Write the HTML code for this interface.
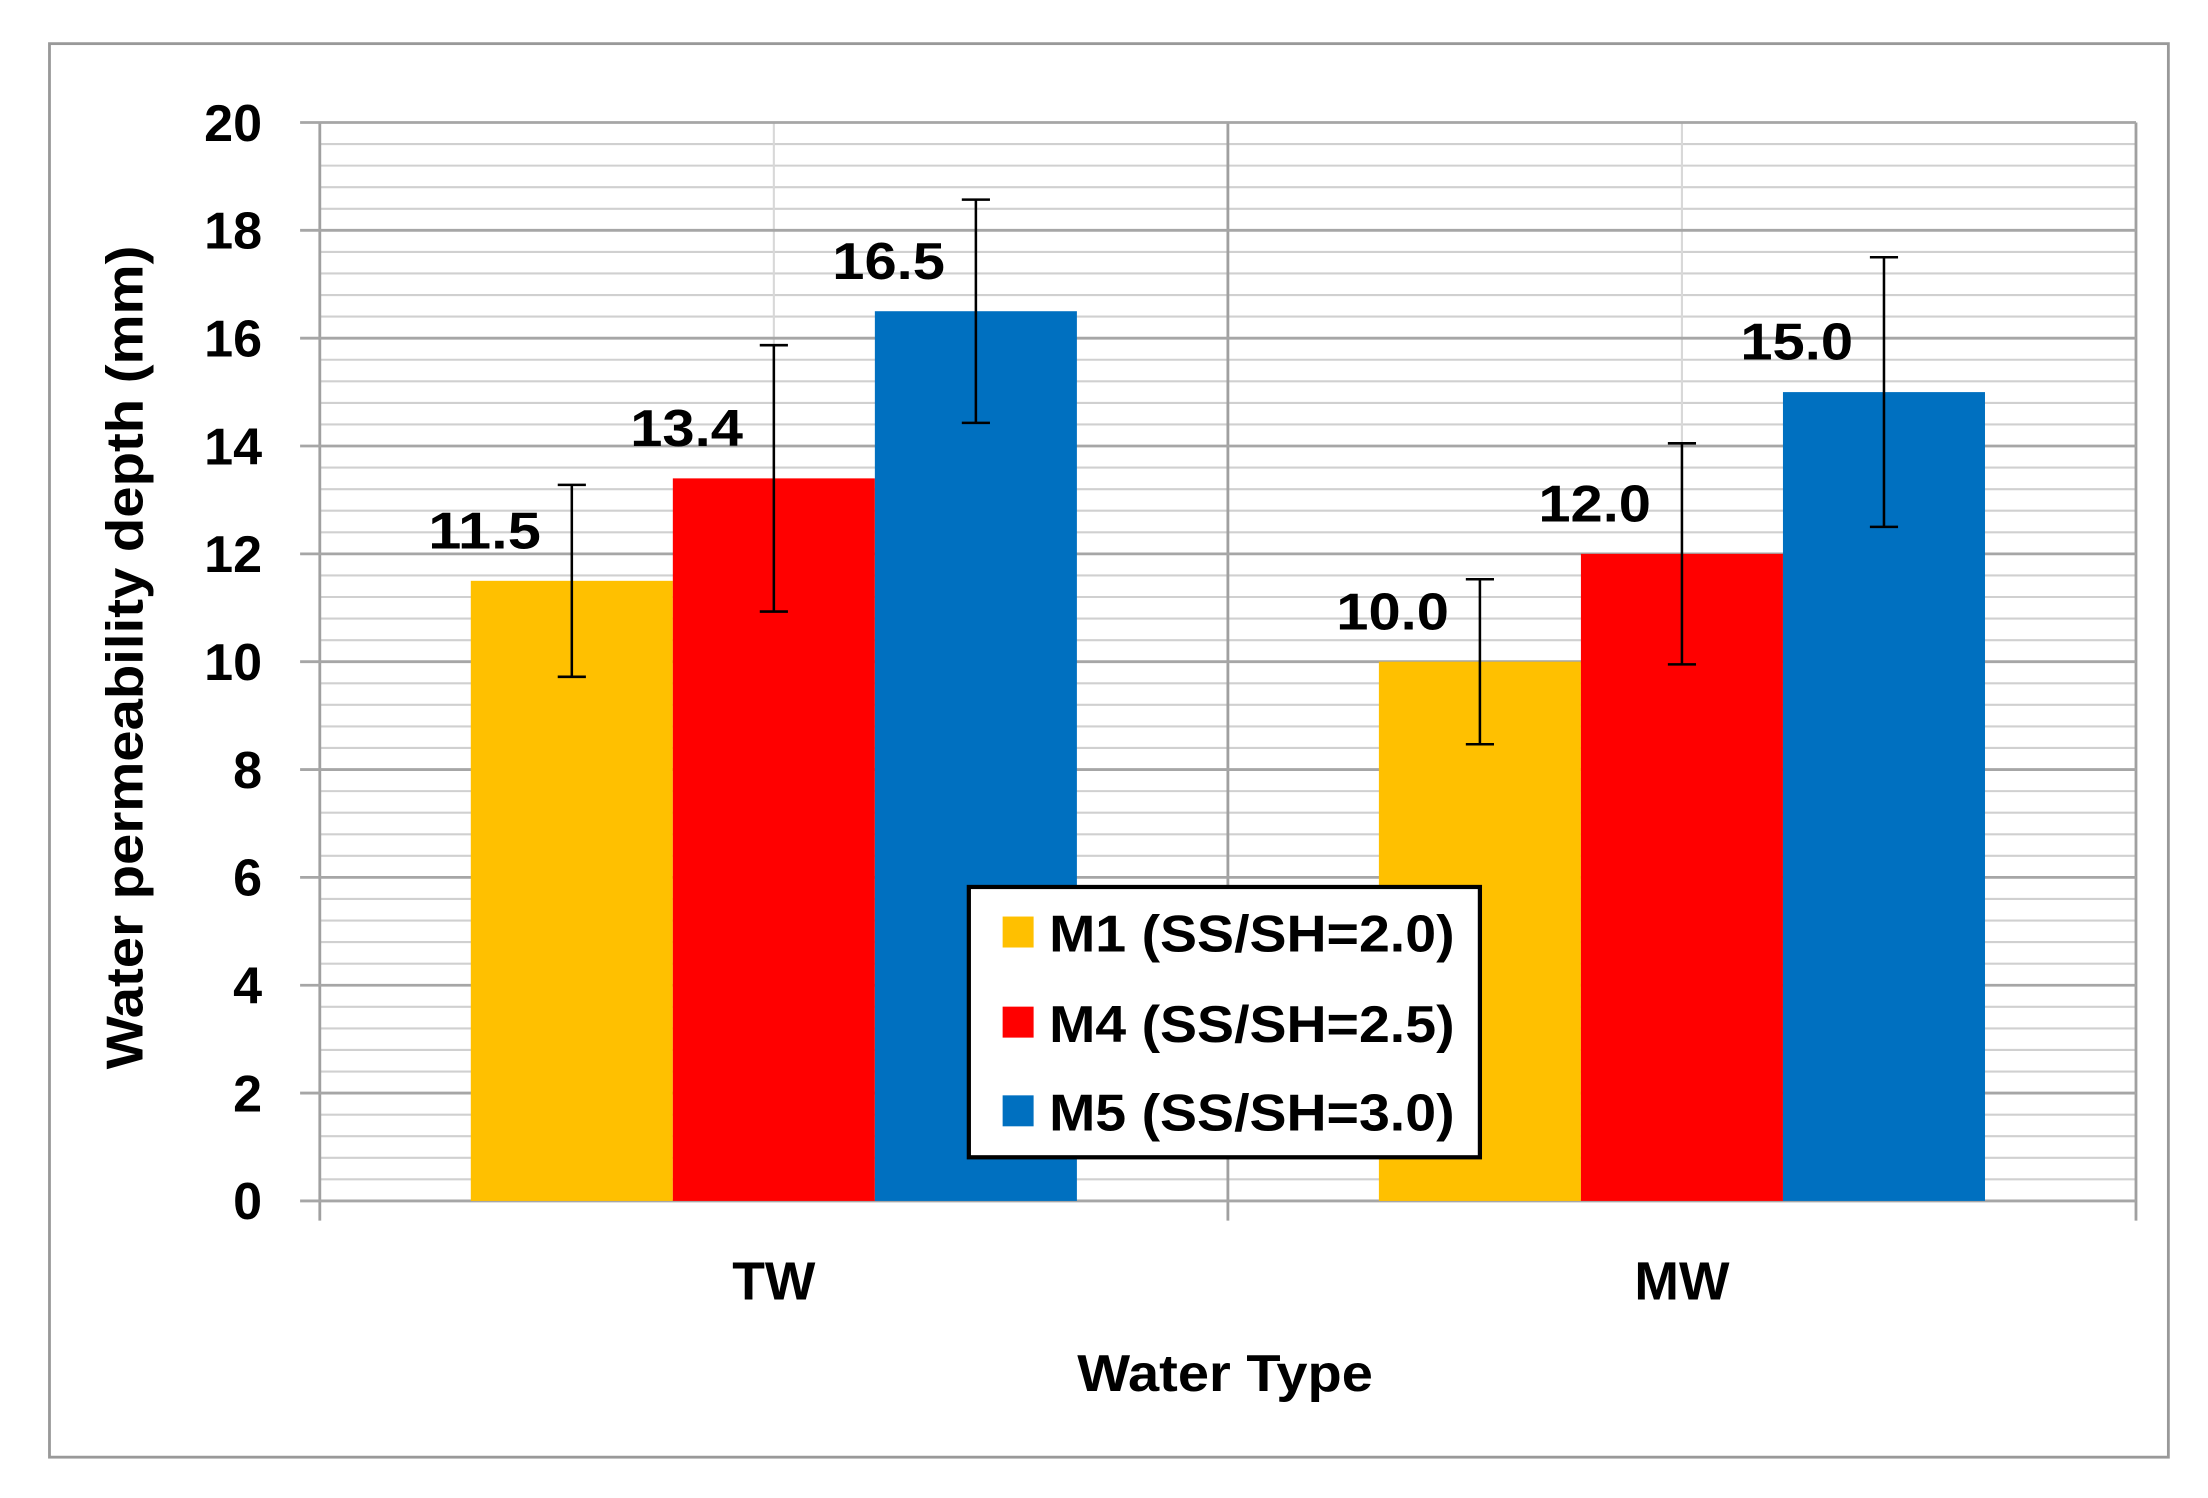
<!DOCTYPE html>
<html><head><meta charset="utf-8"><style>
html,body{margin:0;padding:0;background:#fff;}
svg{display:block;font-family:"Liberation Sans",sans-serif;font-weight:bold;}
</style></head><body>
<svg id="chart" width="2208" height="1498" viewBox="0 0 1568 1064" xmlns="http://www.w3.org/2000/svg">
<rect x="35" y="31" width="1505" height="1004" fill="#fff" stroke="#999" stroke-width="2"/>
<g id="grid"></g>
<g id="bars"></g>
<g id="labels"></g>
<text x="870" y="988" font-size="37" text-anchor="middle" textLength="210" lengthAdjust="spacingAndGlyphs">Water Type</text>
<text transform="translate(101,467) rotate(-90)" font-size="37" text-anchor="middle" textLength="585" lengthAdjust="spacingAndGlyphs">Water permeability depth (mm)</text>
<g>
<rect x="688" y="630" width="363" height="192" fill="#fff" stroke="#000" stroke-width="3"/>
<rect x="712" y="651" width="22" height="22" fill="#FFC000"/>
<text x="745" y="676" font-size="37" textLength="288" lengthAdjust="spacingAndGlyphs">M1 (SS/SH=2.0)</text>
<rect x="712" y="715" width="22" height="22" fill="#FF0000"/>
<text x="745" y="740" font-size="37" textLength="288" lengthAdjust="spacingAndGlyphs">M4 (SS/SH=2.5)</text>
<rect x="712" y="778" width="22" height="22" fill="#0070C0"/>
<text x="745" y="803" font-size="37" textLength="288" lengthAdjust="spacingAndGlyphs">M5 (SS/SH=3.0)</text>
</g>
</svg>
<script>
const categories = ["TW", "MW"];
const seriesNames = ["M1 (SS/SH=2.0)", "M4 (SS/SH=2.5)", "M5 (SS/SH=3.0)"];
const m1Values = [11.5, 10.0];
const m4Values = [13.4, 12.0];
const m5Values = [16.5, 15.0];
const m1Err = [1.78, 1.53];
const m4Err = [2.47, 2.05];
const m5Err = [2.07, 2.5];
const yTicks = [0, 2, 4, 6, 8, 10, 12, 14, 16, 18, 20];

const NS = "http://www.w3.org/2000/svg";
const L = 227, R = 1517, T = 87, B = 853, yMax = 20;
const colors = ["#FFC000", "#FF0000", "#0070C0"];
const y = v => B - (v / yMax) * (B - T);
const catW = (R - L) / categories.length;
const barW = 143.5;
const x = (ci, si) => L + catW * ci + catW / 2 - 1.5 * barW + si * barW;

function mk(tag, attrs, parent) {
  const e = document.createElementNS(NS, tag);
  for (const k in attrs) e.setAttribute(k, attrs[k]);
  parent.appendChild(e);
  return e;
}
const grid = document.getElementById('grid');
const bars = document.getElementById('bars');
const labels = document.getElementById('labels');

for (let v = 0; v <= yMax + 1e-9; v += 0.4) {
  const g = mk('line', {x1: L, x2: R, y1: y(v), y2: y(v), stroke: '#d0d0d0', 'stroke-width': 1.5}, grid);
  
  
}
categories.forEach((c, i) => {
  const cx = L + catW * i + catW / 2;
  const v = mk('line', {x1: cx, x2: cx, y1: T, y2: B, stroke: '#d8d8d8', 'stroke-width': 1.5}, grid);
  
  
});
for (let i = 0; i <= categories.length; i++) {
  const xx = L + catW * i;
  const v = mk('line', {x1: xx, x2: xx, y1: T, y2: B + 14, stroke: '#a0a0a0', 'stroke-width': 2}, grid);
  
  
}
yTicks.forEach(t => {
  const g = mk('line', {x1: L - 14, x2: R, y1: y(t), y2: y(t), stroke: '#a6a6a6', 'stroke-width': 2}, grid);
  
  
  const tx = mk('text', {x: 186, y: y(t) + 13, 'font-size': 37, 'text-anchor': 'end'}, labels);
  tx.textContent = t;
  
  
});

const vals = [m1Values, m4Values, m5Values];
const errs = [m1Err, m4Err, m5Err];
categories.forEach((c, ci) => {
  vals.forEach((sv, si) => {
    const bx = x(ci, si), v = sv[ci];
    const r = mk('rect', {x: bx, y: y(v), width: barW, height: B - y(v), fill: colors[si]}, bars);
    
    
    const cx = bx + barW / 2, e = errs[si][ci];
    const eb = mk('path', {d: `M${cx},${y(v+e)}V${y(v-e)}M${cx-10},${y(v+e)}H${cx+10}M${cx-10},${y(v-e)}H${cx+10}`, stroke: '#000', 'stroke-width': 1.8, fill: 'none'}, bars);
    
    
    const lb = mk('text', {x: cx - 62, y: y(v) - 23, 'font-size': 37, 'text-anchor': 'middle', textLength: 80, lengthAdjust: 'spacingAndGlyphs'}, labels);
    lb.textContent = v.toFixed(1);
    
    
  });
  const cl = mk('text', {x: L + catW * ci + catW / 2, y: 923, 'font-size': 38, 'text-anchor': 'middle'}, labels);
  cl.textContent = c;
  
  
});
</script>
</body></html>
